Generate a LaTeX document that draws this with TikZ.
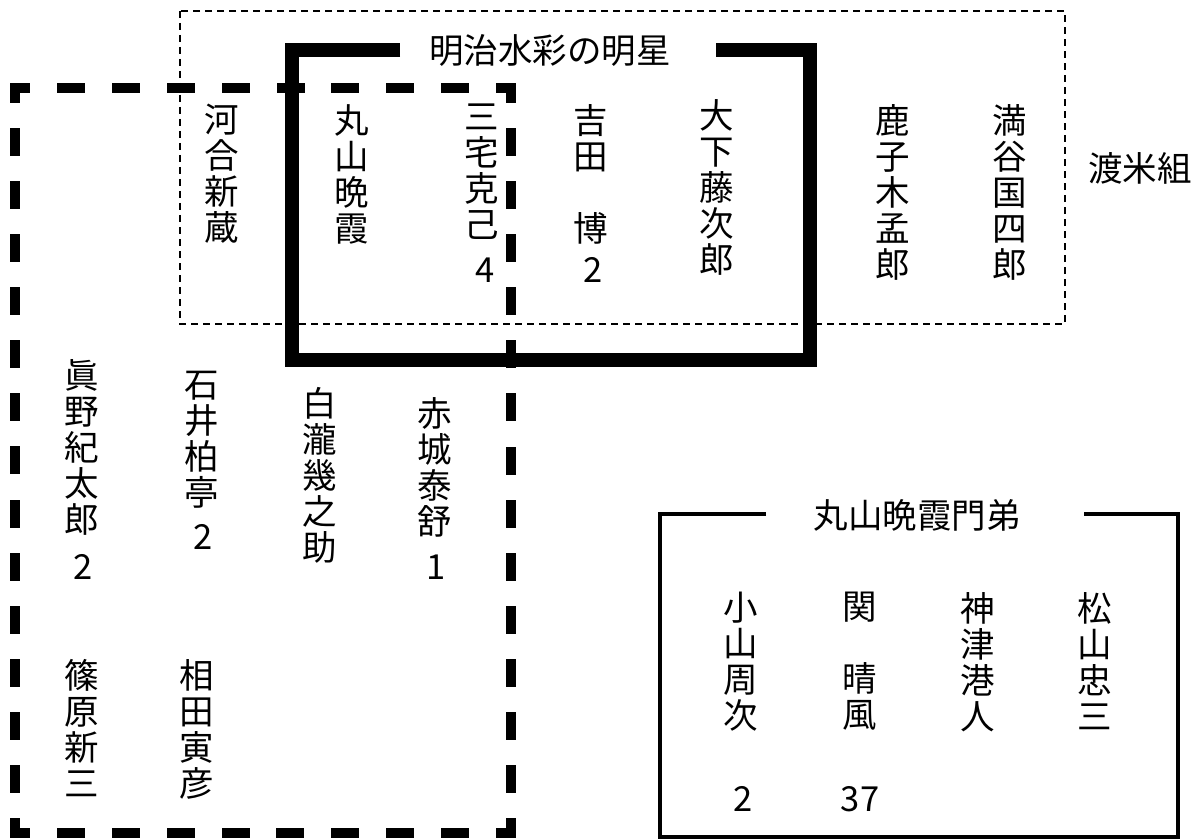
\documentclass[tikz,border=0pt]{standalone}
\usepackage{fontspec}
\setmainfont{Noto Sans CJK JP}
\begin{document}
\begin{tikzpicture}[x=1pt,y=-1pt,
  vname/.style={anchor=north, align=center, inner sep=0pt, font=\fontsize{34.5}{36}\selectfont},
  num/.style={inner sep=0pt, font=\fontsize{34.5}{36}\selectfont},
  title/.style={inner sep=0pt, font=\fontsize{34.5}{36}\selectfont},
  dotbox/.style={line width=2.8pt, dash pattern=on 7pt off 5pt},
  thickbox/.style={line width=14pt, line join=miter},
  thinbox/.style={line width=4pt, line join=miter},
  dashside/.style={line width=10pt, line cap=rect}]
\fill[white] (0,0) rectangle (1195,840);
\useasboundingbox (0,0) rectangle (1195,840);

% dotted box (渡米組)
\draw[dotbox] (180,11) rectangle (1065,324);

% thick box (明治水彩の明星)
\node[title] (meisei) at (550,50) {明治水彩の明星};
\draw[thickbox] (400,50) -- (292,50) -- (292,360) -- (810,360) -- (810,50) -- (716,50);

% thick dashed box
\draw[dashside, dash pattern=on 18pt off 36.9pt, dash phase=8pt] (15,88) -- (511,88);
\draw[dashside, dash pattern=on 18pt off 36.9pt, dash phase=8pt] (511,833) -- (15,833);
\draw[dashside, dash pattern=on 18pt off 35.07pt, dash phase=8pt] (15,88) -- (15,833);
\draw[dashside, dash pattern=on 18pt off 35.07pt, dash phase=8pt] (511,833) -- (511,88);

% bottom-right box (丸山晩霞門弟)
\node[title] (monte) at (917,515) {丸山晩霞門弟};
\draw[thinbox] (766,514) -- (660,514) -- (660,837) -- (1178,837) -- (1178,514) -- (1084,514);

% upper names
\node[vname] (kawai) at (222,104) {河\\合\\新\\蔵};
\node[vname] (maruyama) at (352,104) {丸\\山\\晩\\霞};
\node[vname] (miyake) at (482,104) {三\\宅\\克\\己};
\node[num] (miyakeN) at (485,270) {4};
\node[vname] (yoshida) at (591,104) {吉\\田\\[36pt]博};
\node[num] (yoshidaN) at (593,270) {2};
\node[vname] (oshita) at (717,99) {大\\下\\藤\\次\\郎};
\node[vname] (kanokogi) at (893,104) {鹿\\子\\木\\孟\\郎};
\node[vname] (mitsutani) at (1010,104) {満\\谷\\国\\四\\郎};
\node[title] (tobei) at (1140,168) {渡米組};

% middle / lower names
\node[vname] (mano) at (82,359) {眞\\野\\紀\\太\\郎};
\node[num] (manoN) at (83,567) {2};
\node[vname] (ishii) at (202,371) {石\\井\\柏\\亭};
\node[num] (ishiiN) at (203,537) {2};
\node[vname] (shirataki) at (320,387) {白\\瀧\\幾\\之\\助};
\node[vname] (akashi) at (435,397) {赤\\城\\泰\\舒};
\node[num] (akashiN) at (436,567) {1};
\node[vname] (shinohara) at (82,659) {篠\\原\\新\\三};
\node[vname] (aida) at (197,659) {相\\田\\寅\\彦};

% bottom box names
\node[vname] (koyama) at (741,592) {小\\山\\周\\次};
\node[num] (koyamaN) at (743,799) {2};
\node[vname] (seki) at (860,592) {関\\[36pt]晴\\風};
\node[num] (sekiN) at (860,799) {37};
\node[vname] (kozu) at (978,592) {神\\津\\港\\人};
\node[vname] (matsuyama) at (1095,592) {松\\山\\忠\\三};
\end{tikzpicture}
\end{document}
